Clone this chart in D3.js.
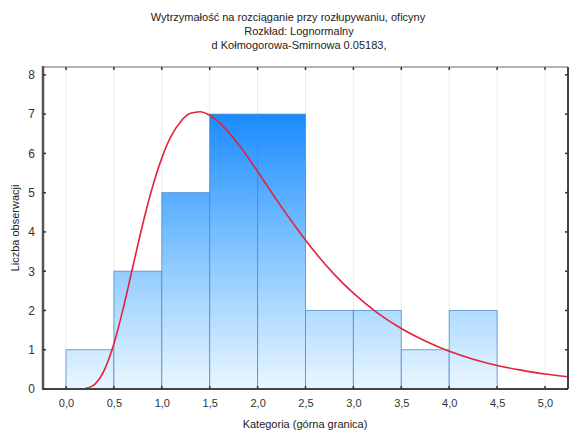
<!DOCTYPE html>
<html>
<head>
<meta charset="utf-8">
<script src="https://cdn.jsdelivr.net/npm/d3@7"></script>
<style>
  html, body { margin: 0; padding: 0; background: #ffffff; }
  svg { display: block; font-family: "Liberation Sans", Arial, sans-serif; }
</style>
</head>
<body>
<svg id="chart" width="570" height="430"></svg>
<script>
// ---- Data ----
const titleLines = [
  "Wytrzymałość na rozciąganie przy rozłupywaniu, oficyny",
  "Rozkład: Lognormalny",
  "d Kołmogorowa-Smirnowa 0.05183,"
];
const binStarts = [0.0, 0.5, 1.0, 1.5, 2.0, 2.5, 3.0, 3.5, 4.0];
const binEnds   = [0.5, 1.0, 1.5, 2.0, 2.5, 3.0, 3.5, 4.0, 4.5];
const counts    = [1, 3, 5, 7, 7, 2, 2, 1, 2];
const curveX = [0.2, 0.3, 0.4, 0.5, 0.6, 0.7, 0.8, 0.9, 1.0, 1.1, 1.2, 1.3, 1.4, 1.5, 1.6, 1.8, 2.0, 2.2, 2.4, 2.6, 2.8, 3.0, 3.25, 3.5, 3.75, 4.0, 4.25, 4.5, 4.75, 5.0, 5.24];
const curveY = [0.01, 0.12, 0.48, 1.15, 2.08, 3.14, 4.19, 5.12, 5.88, 6.45, 6.82, 7.02, 7.06, 6.97, 6.79, 6.23, 5.54, 4.81, 4.12, 3.48, 2.92, 2.44, 1.94, 1.54, 1.22, 0.96, 0.76, 0.60, 0.48, 0.38, 0.31];
const xTicks = [0.0, 0.5, 1.0, 1.5, 2.0, 2.5, 3.0, 3.5, 4.0, 4.5, 5.0];
const yTicks = [0, 1, 2, 3, 4, 5, 6, 7, 8];
const xLabel = "Kategoria (górna granica)";
const yLabel = "Liczba obserwacji";

(function () {
// ---- Layout ----
const svg = d3.select("#chart");
const pL = 43, pR = 568, pT = 67, pB = 389;
const xs = d3.scaleLinear().domain([-0.24, 5.24]).range([pL, pR]);
const ys = d3.scaleLinear().domain([0, 8.2]).range([pB, pT]);

// gradient (absolute in plot space)
const defs = svg.append("defs");
const grad = defs.append("linearGradient")
  .attr("id", "barGrad")
  .attr("gradientUnits", "userSpaceOnUse")
  .attr("x1", 0).attr("x2", 0)
  .attr("y1", ys(0)).attr("y2", ys(7));
grad.append("stop").attr("offset", "0%").attr("stop-color", "#eaf6ff");
grad.append("stop").attr("offset", "45%").attr("stop-color", "#8ecbff");
grad.append("stop").attr("offset", "100%").attr("stop-color", "#1a8bff");

defs.append("clipPath").attr("id", "plotClip")
  .append("rect").attr("x", pL).attr("y", pT)
  .attr("width", pR - pL).attr("height", pB - pT);

// gridlines (vertical, faint)
svg.append("g").selectAll("line").data(xTicks).join("line")
  .attr("x1", d => xs(d)).attr("x2", d => xs(d))
  .attr("y1", pT).attr("y2", pB)
  .attr("stroke", "#ececec").attr("stroke-width", 1);

// bars
svg.append("g").selectAll("rect").data(counts).join("rect")
  .attr("x", (d, i) => xs(binStarts[i]))
  .attr("width", (d, i) => xs(binEnds[i]) - xs(binStarts[i]))
  .attr("y", d => ys(d))
  .attr("height", d => ys(0) - ys(d))
  .attr("fill", "url(#barGrad)")
  .attr("stroke", "#4f86c6")
  .attr("stroke-opacity", 0.75)
  .attr("stroke-width", 1);

// curve
const line = d3.line()
  .x(d => xs(d[0])).y(d => ys(d[1]))
  .curve(d3.curveMonotoneX);
svg.append("path")
  .datum(curveX.map((v, i) => [v, curveY[i]]))
  .attr("clip-path", "url(#plotClip)")
  .attr("d", line)
  .attr("fill", "none")
  .attr("stroke", "#e3223c")
  .attr("stroke-width", 1.6);

// frame: top and right
svg.append("line").attr("x1", pL).attr("x2", pR).attr("y1", pT).attr("y2", pT)
  .attr("stroke", "#9a9a9a").attr("stroke-width", 1.5);
svg.append("line").attr("x1", pR).attr("x2", pR).attr("y1", pT).attr("y2", pB)
  .attr("stroke", "#444").attr("stroke-width", 2);

// axes
const xAxis = d3.axisBottom(xs).tickValues(xTicks)
  .tickFormat(d => d3.format(".1f")(d).replace(".", ","))
  .tickSize(0).tickPadding(10);
const gx = svg.append("g").attr("transform", `translate(0,${pB})`).call(xAxis);
gx.select(".domain").remove();
gx.selectAll("text").attr("font-size", 11).attr("fill", "#333")
  .attr("font-family", "Liberation Sans, Arial, sans-serif");

const yAxis = d3.axisLeft(ys).tickValues(yTicks).tickFormat(d3.format("d"))
  .tickSize(0).tickPadding(8);
const gy = svg.append("g").attr("transform", `translate(${pL},0)`).call(yAxis);
gy.select(".domain").remove();
gy.selectAll("text").attr("font-size", 12).attr("fill", "#333")
  .attr("font-family", "Liberation Sans, Arial, sans-serif");

// axis lines
svg.append("line").attr("x1", pL).attr("x2", pR).attr("y1", pB).attr("y2", pB)
  .attr("stroke", "#444").attr("stroke-width", 2);
svg.append("line").attr("x1", pL).attr("x2", pL).attr("y1", pT - 1).attr("y2", pB + 1)
  .attr("stroke", "#555").attr("stroke-width", 2.5);

// small tick marks (inward)
const tm = svg.append("g").attr("stroke", "#333").attr("stroke-width", 1.5);
tm.selectAll(".tb").data(xTicks).join("line").attr("class", "tb")
  .attr("x1", d => xs(d)).attr("x2", d => xs(d)).attr("y1", pB).attr("y2", pB - 3);
tm.selectAll(".tt").data(xTicks).join("line").attr("class", "tt")
  .attr("x1", d => xs(d)).attr("x2", d => xs(d)).attr("y1", pT).attr("y2", pT + 3);
tm.selectAll(".tl").data(yTicks).join("line").attr("class", "tl")
  .attr("x1", pL).attr("x2", pL + 3).attr("y1", d => ys(d)).attr("y2", d => ys(d));
tm.selectAll(".tr").data(yTicks).join("line").attr("class", "tr")
  .attr("x1", pR).attr("x2", pR - 3).attr("y1", d => ys(d)).attr("y2", d => ys(d));

// titles
const titleX = [288, 299, 299];
svg.append("g").selectAll("text").data(titleLines).join("text")
  .attr("x", (d, i) => titleX[i])
  .attr("y", (d, i) => 21 + i * 14)
  .attr("text-anchor", "middle")
  .attr("font-size", 11)
  .attr("fill", "#222")
  .text(d => d);

// axis labels
svg.append("text").attr("x", 305).attr("y", 428)
  .attr("text-anchor", "middle").attr("font-size", 11).attr("fill", "#222")
  .text(xLabel);
svg.append("text")
  .attr("transform", `translate(19,${(pT + pB) / 2}) rotate(-90)`)
  .attr("text-anchor", "middle").attr("font-size", 11).attr("fill", "#222")
  .text(yLabel);
})();
</script>
</body>
</html>
